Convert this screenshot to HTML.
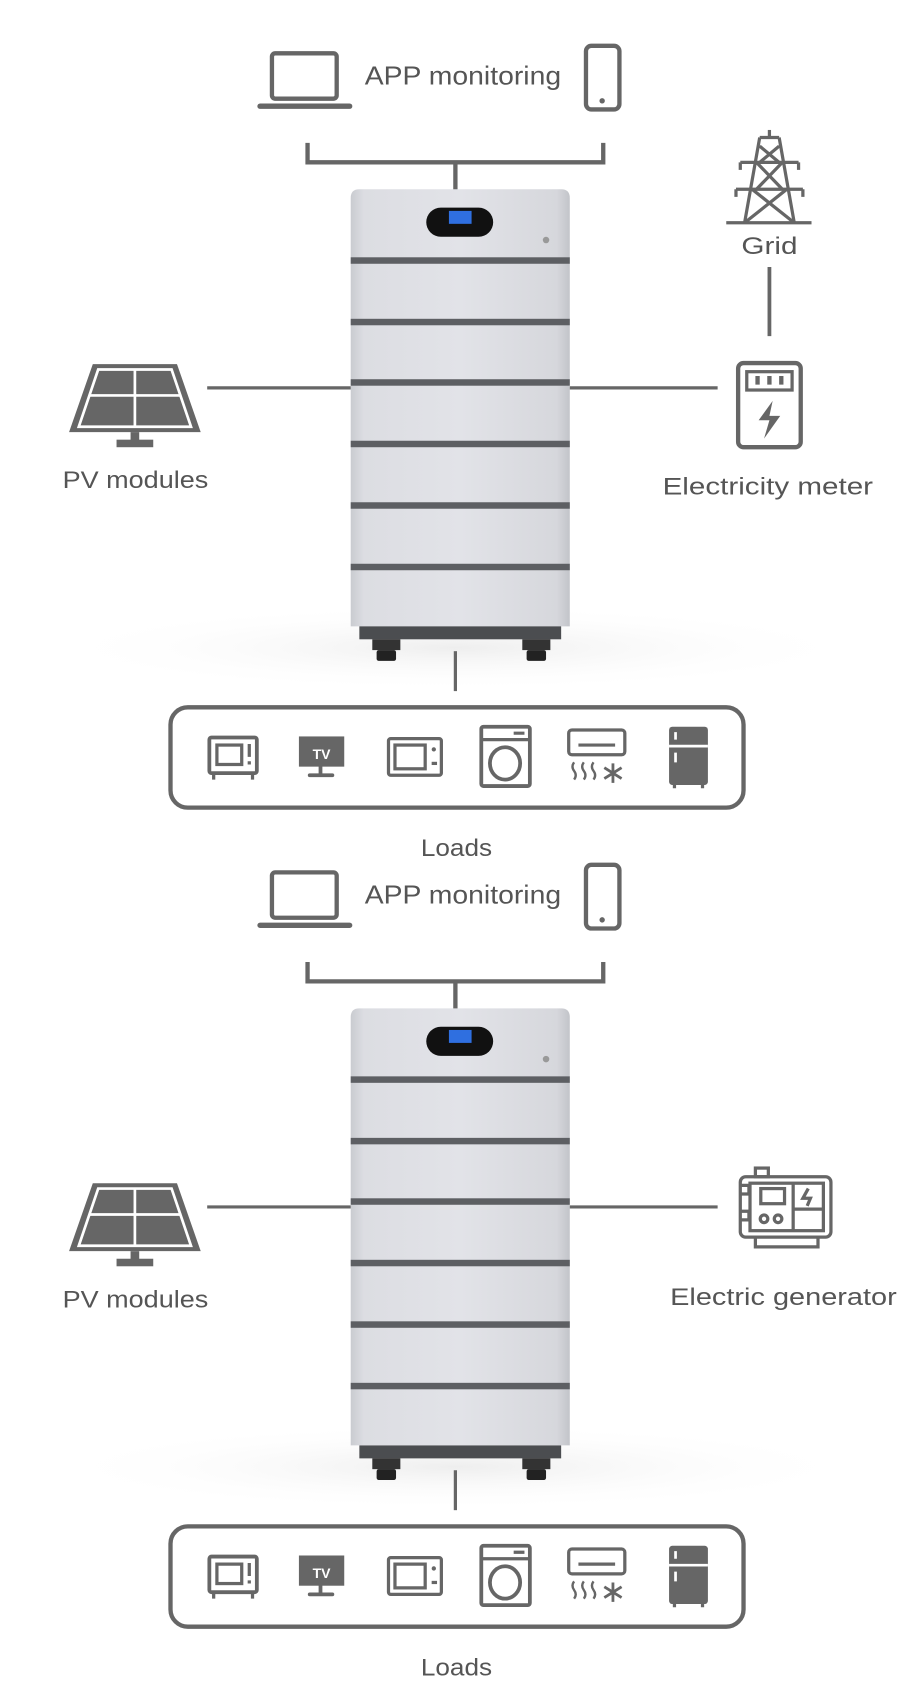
<!DOCTYPE html>
<html><head><meta charset="utf-8"><style>
html,body{margin:0;padding:0;background:#fff;}
svg{display:block;}
text{font-family:"Liberation Sans",sans-serif;fill:#555;}
</style></head><body>
<svg width="900" height="1693" viewBox="0 0 834 1568" xmlns="http://www.w3.org/2000/svg">
<defs>
<linearGradient id="bat" x1="0" x2="1" y1="0" y2="0">
<stop offset="0" stop-color="#c9cbd0"/><stop offset="0.06" stop-color="#dcdde2"/><stop offset="0.5" stop-color="#e2e3e8"/><stop offset="0.94" stop-color="#d6d7dc"/><stop offset="1" stop-color="#c2c4c9"/>
</linearGradient>
<radialGradient id="shadow" cx="0.5" cy="0.5" r="0.5">
<stop offset="0" stop-color="#eeeeee"/><stop offset="1" stop-color="#fff" stop-opacity="0"/>
</radialGradient>
<g id="panel">
  <ellipse cx="422" cy="600" rx="380" ry="40" fill="url(#shadow)"/>
  <rect x="252" y="49" width="60" height="42" rx="3" fill="none" stroke="#666" stroke-width="4"/>
  <path d="M241 98 H324" stroke="#666" stroke-width="5" stroke-linecap="round"/>
  <text x="338" y="78" font-size="24" textLength="182" lengthAdjust="spacingAndGlyphs">APP monitoring</text>
  <rect x="543" y="42" width="31" height="59" rx="5" fill="none" stroke="#666" stroke-width="4"/>
  <circle cx="558" cy="93" r="2.5" fill="#666"/>
  <path d="M285 132 V150 H559 V132 M422 150 V176" fill="none" stroke="#666" stroke-width="4"/>
  <path d="M325 183 Q325 175 333 175 H520 Q528 175 528 183 V580 H325 Z" fill="url(#bat)"/>
  <g fill="#5d5f63">
    <rect x="325" y="238" width="203" height="6"/>
    <rect x="325" y="295" width="203" height="6"/>
    <rect x="325" y="351" width="203" height="6"/>
    <rect x="325" y="408" width="203" height="6"/>
    <rect x="325" y="465" width="203" height="6"/>
    <rect x="325" y="522" width="203" height="6"/>
  </g>
  <rect x="333" y="580" width="187" height="12" fill="#4b4d50"/>
  <rect x="345" y="592" width="26" height="10" fill="#333"/><rect x="349" y="602" width="18" height="10" rx="2" fill="#222"/>
  <rect x="484" y="592" width="26" height="10" fill="#333"/><rect x="488" y="602" width="18" height="10" rx="2" fill="#222"/>
  <rect x="395" y="192" width="62" height="27" rx="13.5" fill="#111"/>
  <rect x="416" y="195" width="21" height="12" fill="#2f6fe0"/>
  <circle cx="506" cy="222" r="3" fill="#999"/>
  <path d="M192 359 H325 M528 359 H665" stroke="#666" stroke-width="3"/>
  <path d="M86 337 H164 L186 400 H64 Z" fill="#666"/>
  <path d="M91 342 H159 L177 395 H73 Z" fill="none" stroke="#fff" stroke-width="2.5"/>
  <path d="M125 342 V395 M82 366 H168" stroke="#fff" stroke-width="2.5"/>
  <rect x="121" y="400" width="8" height="8" fill="#666"/>
  <rect x="108" y="407" width="34" height="7" fill="#666"/>
  <text x="58" y="452" font-size="22" textLength="135" lengthAdjust="spacingAndGlyphs">PV modules</text>
  <path d="M422 603 V640" stroke="#666" stroke-width="3"/>
  <rect x="158" y="655" width="531" height="93" rx="16" fill="none" stroke="#666" stroke-width="4"/>
  <rect x="194" y="683" width="44" height="33" rx="2" fill="none" stroke="#666" stroke-width="3.5"/>
  <rect x="201" y="690" width="23" height="18" fill="none" stroke="#666" stroke-width="3"/>
  <path d="M231 689 V701 M231 705 V708 M198 716 V722 M234 716 V722" stroke="#666" stroke-width="3"/>
  <rect x="277" y="682" width="42" height="28" fill="#666"/>
  <text x="298" y="703" font-size="13" text-anchor="middle" style="fill:#fff;font-weight:bold">TV</text>
  <path d="M297 710 V717 M287 718 H308" stroke="#666" stroke-width="3.5" stroke-linecap="round"/>
  <rect x="360" y="684" width="49" height="34" rx="2" fill="none" stroke="#666" stroke-width="3"/>
  <rect x="366" y="690" width="28" height="22" fill="none" stroke="#666" stroke-width="3"/>
  <circle cx="402" cy="694" r="2" fill="#666"/><path d="M400 707 H405" stroke="#666" stroke-width="3"/>
  <rect x="446" y="673" width="45" height="55" rx="2" fill="none" stroke="#666" stroke-width="3.5"/>
  <path d="M446 685 H491 M476 679 H486" stroke="#666" stroke-width="3"/>
  <ellipse cx="468" cy="707" rx="14" ry="15" fill="none" stroke="#666" stroke-width="3.5"/>
  <rect x="527" y="676" width="52" height="23" rx="3" fill="none" stroke="#666" stroke-width="3"/>
  <path d="M536 690 H570" stroke="#666" stroke-width="3"/>
  <path d="M532 706 q-3 4 0 8 q3 4 0 8 M541 706 q-3 4 0 8 q3 4 0 8 M550 706 q-3 4 0 8 q3 4 0 8" fill="none" stroke="#666" stroke-width="2.2"/>
  <path d="M568 707 V725 M560 711 L576 721 M576 711 L560 721" stroke="#666" stroke-width="2.6"/>
  <rect x="620" y="673" width="36" height="54" rx="3" fill="#666"/>
  <path d="M620 691 H656" stroke="#fff" stroke-width="2.5"/>
  <path d="M626 678 V685 M626 697 V706" stroke="#fff" stroke-width="2.5"/>
  <path d="M625 727 V730 M651 727 V730" stroke="#666" stroke-width="3"/>
  <text x="390" y="793" font-size="22" textLength="66" lengthAdjust="spacingAndGlyphs">Loads</text>
</g>
</defs>
<rect width="834" height="1568" fill="#fff"/>
<use href="#panel"/>
<use href="#panel" y="759"/>
<g stroke="#666" stroke-width="3" fill="none">
  <path d="M673 206 H752"/>
  <path d="M704 127 H722 M704 127 L690 206 M722 127 L736 206"/>
  <path d="M686 150 H740 M686 150 V157 M740 150 V157 M682 175 H744 M682 175 V182 M744 175 V182"/>
  <path d="M704 135 L722 150 M722 135 L704 150 M701 150 L725 175 M725 150 L701 175 M697 175 L736 206 M729 175 L690 206"/>
  <path d="M713 120 V127"/>
</g>
<text x="687" y="235" font-size="22" textLength="52" lengthAdjust="spacingAndGlyphs">Grid</text>
<path d="M713 247 V311" stroke="#666" stroke-width="3.5"/>
<rect x="684" y="336" width="58" height="78" rx="5" fill="none" stroke="#666" stroke-width="4"/>
<rect x="692" y="344" width="42" height="17" fill="none" stroke="#666" stroke-width="3"/>
<path d="M702 348 V356 M713 348 V356 M724 348 V356" stroke="#666" stroke-width="4"/>
<path d="M716 371 L703 389 H713 L708 406 L723 385 H713 Z" fill="#666"/>
<text x="614" y="458" font-size="22" textLength="195" lengthAdjust="spacingAndGlyphs">Electricity meter</text>
<g stroke="#666" stroke-width="3" fill="none">
  <rect x="700" y="1082" width="12" height="8"/>
  <rect x="686" y="1090" width="84" height="56" rx="5"/>
  <path d="M700 1146 V1155 H758 V1146"/>
  <rect x="695" y="1096" width="68" height="44"/>
  <path d="M686 1098 H694 V1106 H686 M686 1122 H694 V1130 H686"/>
  <path d="M735 1096 V1140 M735 1120 H763"/>
  <rect x="705" y="1101" width="22" height="14"/>
  <circle cx="708" cy="1129" r="3.5"/><circle cx="721" cy="1129" r="3.5"/>
  <path d="M749 1101 L744 1110 H751 L748 1117"/>
</g>
<text x="621" y="1209" font-size="22" textLength="210" lengthAdjust="spacingAndGlyphs">Electric generator</text>
</svg>
</body></html>
